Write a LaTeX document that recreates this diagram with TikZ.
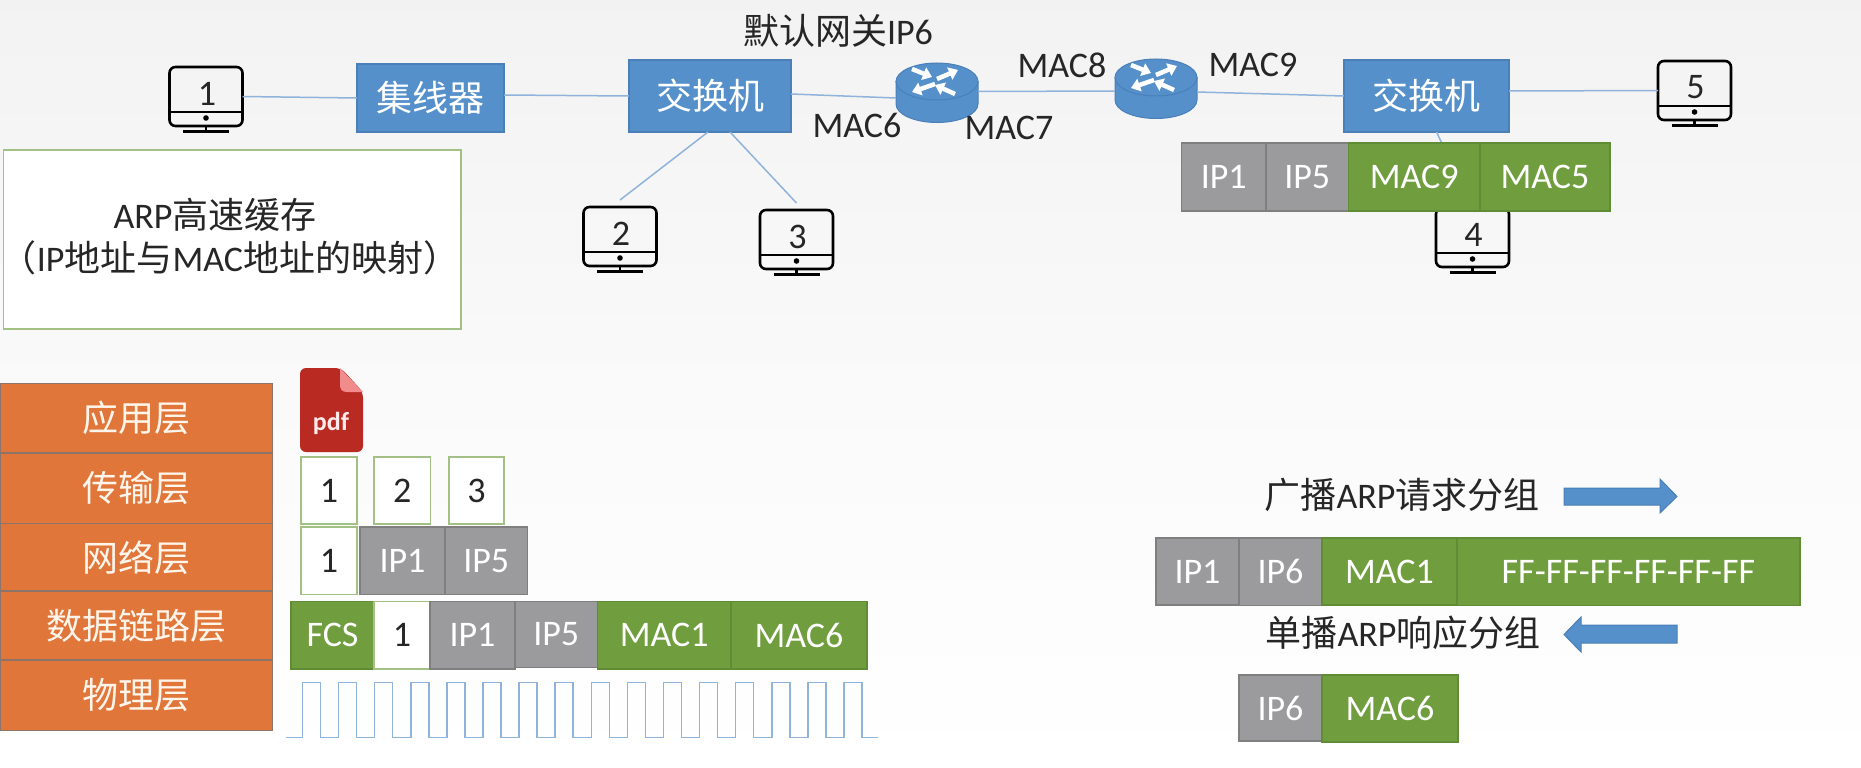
\documentclass[tikz,border=0pt]{standalone}
\usepackage{fontspec}
\setmainfont{Carlito}
\newfontfamily\cjk{Noto Sans CJK SC}
\usetikzlibrary{arrows.meta}
\definecolor{swblue}{HTML}{5590CB}
\definecolor{swedge}{HTML}{4A7FB8}
\definecolor{wire}{HTML}{8FB3DA}
\definecolor{layorange}{HTML}{E0763A}
\definecolor{layedge}{HTML}{8C7468}
\definecolor{pgreen}{HTML}{709E3E}
\definecolor{pgedge}{HTML}{5F8C35}
\definecolor{pgray}{HTML}{9B9A9C}
\definecolor{pgrayedge}{HTML}{7F7F80}
\definecolor{boxedge}{HTML}{A3C185}
\definecolor{ink}{HTML}{262626}
\definecolor{pdfred}{HTML}{B92A22}
\definecolor{pdffold}{HTML}{F08C8C}
\tikzset{
  every node/.style={font=\fontsize{36pt}{43pt}\selectfont, text=ink, inner sep=0pt, outer sep=0pt},
  block/.style={rectangle, line width=1.2pt},
  switchbox/.style={block, fill=swblue, draw=swedge, text=white},
  layerbox/.style={block, fill=layorange, draw=layedge, text=white!92!orange},
  graybox/.style={block, fill=pgray, draw=pgrayedge, text=white},
  greenbox/.style={block, fill=pgreen, draw=pgedge, text=white},
  whitebox/.style={block, fill=white, draw=boxedge},
  wirelink/.style={draw=wire, line width=1.5pt},
  monscreen/.style={rectangle, draw=black, line width=2.6pt, rounded corners=6pt, minimum width=73pt, minimum height=59pt},
  monpart/.style={draw=black, line width=2.6pt},
  routerhit/.style={rectangle, minimum width=82pt, minimum height=60pt},
  routerbody/.style={fill=swblue, draw=swedge, line width=1pt},
  routerarrow/.style={draw=white, line width=4.5pt, -{Triangle[width=13pt,length=9pt]}},
  bigarrow/.style={fill=swblue, draw=swedge, line width=1pt},
  wave/.style={draw=wire, line width=1.5pt}
}
% box from corner to corner: style, name, x1, y1, x2, y2, text
\newcommand\bx[7]{\node[#1, minimum width={(#5-#3)*1pt}, minimum height={(#6-#4)*1pt}] (#2) at ({(#3+#5)/2},{(#4+#6)/2}) {#7};}
% monitor: name, centre x, top y, number
\newcommand\monitor[4]{
  \node[monscreen] (#1) at (#2,{#3+29.5}) {};
  \node (#1-n) at ({#2+1},{#3+26.5}) {#4};
  \draw[monpart] ({#2-36.5},{#3+45}) -- ({#2+36.5},{#3+45});
  \fill[black] (#2,{#3+51}) circle (2.8pt);
  \draw[monpart] (#2,{#3+59}) -- (#2,{#3+64.5});
  \draw[monpart] ({#2-23},{#3+64.5}) -- ({#2+23},{#3+64.5});
}
% router: name, centre x, top y
\newcommand\router[3]{
  \node[routerhit] (#1) at (#2,{#3+30}) {};
  \draw[routerbody] ({#2-41},{#3+18.5}) -- ({#2-41},{#3+41}) arc[start angle=180,end angle=360,x radius=41,y radius=-18.5] -- ({#2+41},{#3+18.5}) -- cycle;
  \draw[routerbody] (#2,{#3+18.5}) ellipse [x radius=41, y radius=18.5];
  \draw[routerarrow] ({#2-25},{#3+6}) -- ({#2-5},{#3+14});
  \draw[routerarrow] (#2,{#3+16}) -- ({#2+21},{#3+7});
  \draw[routerarrow] ({#2-2},{#3+21}) -- ({#2-25},{#3+29});
  \draw[routerarrow] ({#2+18},{#3+31}) -- ({#2-2},{#3+22});
}
\begin{document}
\begin{tikzpicture}[x=1pt,y=-1pt]
\useasboundingbox (0,0) rectangle (1861,768);
\shade[top color=black!5, bottom color=white, middle color=black!2] (0,0) rectangle (1861,768);

% network
\monitor{m1}{206}{67}{1}
\monitor{m2}{620}{207}{2}
\monitor{m3}{796.5}{210}{3}
\monitor{m4}{1472.5}{208}{4}
\monitor{m5}{1694.5}{61}{5}
\bx{switchbox}{hub}{357}{64}{504}{132}{\cjk 集线器}
\bx{switchbox}{swa}{629}{60}{791}{132}{\cjk 交换机}
\bx{switchbox}{swb}{1344}{60}{1509}{132}{\cjk 交换机}
\router{ra}{937}{63}
\router{rb}{1156}{59}

\draw[wirelink] (m1.east) -- (hub.west);
\draw[wirelink] ([yshift=3pt]hub.east) -- (swa.west);
\draw[wirelink] ([yshift=2pt]swa.east) -- ([yshift=-5pt]ra.west);
\draw[wirelink] ([yshift=1.5pt]ra.east) -- ([yshift=-2pt]rb.west);
\draw[wirelink] ([yshift=-3pt]rb.east) -- (swb.west);
\draw[wirelink] ([yshift=5pt]swb.east) -- (m5.west);
\draw[wirelink] ([xshift=-2pt]swa.south) -- ([yshift=7pt]m2.north);
\draw[wirelink] ([xshift=20pt]swa.south) -- ([yshift=7pt]m3.north);
\draw[wirelink] ([xshift=10pt]swb.south) -- (m4.north);

\node (gw) at (838,31) {{\cjk 默认网关}IP6};
\node (mac6) at (857,125) {MAC6};
\node (mac7) at (1009,128) {MAC7};
\node (mac8) at (1062,65) {MAC8};
\node (mac9) at (1253,65) {MAC9};

% packet over the switch
\bx{graybox}{ta}{1181.5}{143}{1266}{211}{IP1}
\bx{graybox}{tb}{1266}{143}{1348.5}{211}{IP5}
\bx{greenbox}{tc}{1348.5}{143}{1480}{211}{MAC9}
\bx{greenbox}{td}{1480}{143}{1610}{211}{MAC5}

% ARP cache box
\bx{whitebox}{arp}{3.5}{150}{461}{329}{}
\node (arpa) at (215,215) {ARP{\cjk 高速缓存}};
\node (arpb) at (230,258) {{\cjk （}IP{\cjk 地址与}MAC{\cjk 地址的映射）}};

% layers
\bx{layerbox}{la}{0}{383.5}{272.5}{453}{\cjk 应用层}
\bx{layerbox}{lb}{0}{453}{272.5}{523.5}{\cjk 传输层}
\bx{layerbox}{lc}{0}{523.5}{272.5}{591}{\cjk 网络层}
\bx{layerbox}{ld}{0}{591}{272.5}{660}{\cjk 数据链路层}
\bx{layerbox}{le}{0}{660}{272.5}{730.5}{\cjk 物理层}

% pdf icon
\fill[pdfred, rounded corners=6pt] (300,368) -- (341,368) -- (363,392) -- (363,452) -- (300,452) -- cycle;
\fill[pdffold] (340,368) -- (363,392) -- (347,392) .. controls (342,392) and (340,389) .. (340,385) -- cycle;
\node[text=white!92!red, font=\fontsize{26pt}{30pt}\selectfont\bfseries] (pdf) at (331,423) {pdf};

% segments
\bx{whitebox}{sa}{301}{457}{357}{524}{1}
\bx{whitebox}{sb}{374}{457}{430.5}{524}{2}
\bx{whitebox}{sc}{449}{457}{504}{524}{3}
\bx{whitebox}{na}{301}{527}{357}{594.5}{1}
\bx{graybox}{nb}{360}{527}{445}{594.5}{IP1}
\bx{graybox}{nc}{445}{527}{527.5}{594.5}{IP5}
\bx{greenbox}{fa}{291}{601.5}{374}{669}{FCS}
\bx{whitebox}{fb}{374}{601.5}{430}{669}{1}
\bx{graybox}{fc}{430}{601.5}{515}{669}{IP1}
\bx{graybox}{fd}{515}{601.5}{597.5}{667.5}{IP5}
\bx{greenbox}{fe}{597.5}{601.5}{731}{669}{MAC1}
\bx{greenbox}{ff}{731}{601.5}{867}{669}{MAC6}

% signal
\draw[wave] (286,737.7) foreach \i in {0,...,15} {
  -- ({302.5+36.1*\i},737.7) -- ({302.5+36.1*\i},682.7) -- ({320.5+36.1*\i},682.7) -- ({320.5+36.1*\i},737.7)
} -- (878,737.7);

% ARP packets
\node (req) at (1402,495) {{\cjk 广播}ARP{\cjk 请求分组}};
\draw[bigarrow] (1564,488) -- (1660,488) -- (1660,479) -- (1677,496.5) -- (1660,513) -- (1660,505) -- (1564,505) -- cycle;
\bx{graybox}{qa}{1156}{538}{1239}{605}{IP1}
\bx{graybox}{qb}{1239}{538}{1322}{605.5}{IP6}
\bx{greenbox}{qc}{1322}{538}{1457}{605}{MAC1}
\bx{greenbox}{qd}{1457}{538}{1800}{605.5}{FF-FF-FF-FF-FF-FF}
\node (rep) at (1403,633) {{\cjk 单播}ARP{\cjk 响应分组}};
\draw[bigarrow] (1677,625) -- (1581,625) -- (1581,617) -- (1564,634.5) -- (1581,652) -- (1581,643) -- (1677,643) -- cycle;
\bx{graybox}{pa}{1239}{675}{1322}{741}{IP6}
\bx{greenbox}{pb}{1322}{675}{1458}{742}{MAC6}
\end{tikzpicture}
\end{document}
